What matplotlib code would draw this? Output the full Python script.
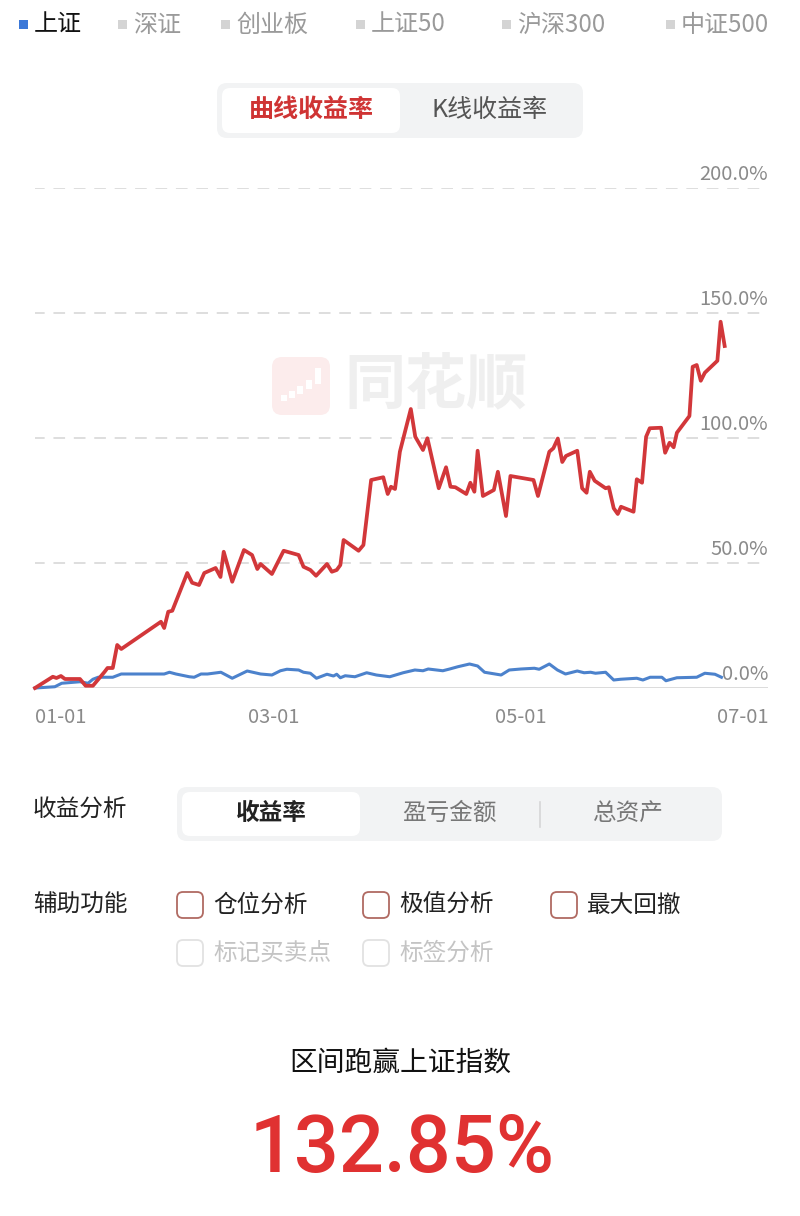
import matplotlib
matplotlib.use("Agg")
import matplotlib.pyplot as plt
from matplotlib.patches import FancyBboxPatch, Rectangle

plt.rcParams['font.family'] = ['Noto Sans CJK SC', 'DejaVu Sans']

# ---------------- data (days since 01-01, percent return) ----------------
red_days = [0, 4.4, 5.3, 6.4, 7.4, 11.1, 12.5, 14.3, 17.2, 17.9, 19.2, 20.3, 21.3, 31.1, 31.9,
            32.9, 33.9, 37.6, 38.8, 40.5, 41.8, 44.6, 45.8, 46.6, 48.7, 51.6, 53.6, 54.9, 55.7,
            58.5, 61.4, 65.1, 66.3, 68.0, 69.4, 72.1, 73.3, 74.5, 75.4, 76.2, 79.9, 81.1, 83.0,
            86.0, 87.1, 87.9, 88.9, 90.1, 92.8, 93.9, 95.8, 96.9, 99.7, 101.5, 102.6, 103.8,
            106.5, 107.5, 108.5, 109.3, 110.6, 113.3, 114.3, 116.3, 117.4, 123.1, 124.2, 127.0,
            128.0, 129.1, 130.2, 131.1, 133.9, 135.1, 136.2, 137.0, 138.2, 140.9, 141.7, 142.9,
            143.9, 144.7, 147.8, 148.6, 149.9, 150.9, 151.8, 154.6, 155.6, 156.7, 157.7, 158.5,
            161.6, 162.4, 163.4, 164.4, 165.4, 168.5, 169.3, 170.3]
red_vals = [0, 4.5, 4.0, 4.8, 3.6, 3.6, 0.9, 0.9, 6.5, 8.0, 8.0, 17.2, 15.6, 26.5, 24.0,
            30.5, 30.9, 46.0, 42.1, 41.2, 46.0, 48.0, 44.4, 54.5, 42.5, 55.2, 53.2, 47.6, 49.6,
            45.6, 54.9, 53.2, 48.5, 47.2, 44.9, 49.6, 46.5, 47.2, 49.2, 59.2, 54.9, 57.2, 83.2,
            84.3, 77.6, 80.5, 79.6, 94.5, 111.6, 100.5, 95.2, 99.9, 79.9, 88.3, 80.5, 80.3,
            77.6, 82.1, 78.5, 94.9, 76.8, 79.2, 86.5, 68.8, 84.8, 83.2, 76.8, 94.5,
            95.9, 99.8, 90.4, 92.8, 94.9, 79.9, 78.1, 86.5, 82.9, 79.9, 80.3, 71.9,
            69.6, 72.5, 70.5, 83.5, 82.1, 100.5, 103.9, 104.1, 94.1, 98.1, 96.3, 102.1,
            108.8, 128.5, 129.2, 122.9, 126.1, 130.9, 146.5, 136.8]

blue_days = [0, 4.9, 6.6, 11.1, 13.1, 14.3, 15.6, 19.2, 21.3, 31.9, 33.2, 34.8, 38.1, 39.3,
             41.0, 42.6, 45.9, 48.7, 52.4, 55.7, 58.5, 60.6, 62.2, 65.1, 66.3, 68.0, 69.5, 72.1,
             73.7, 74.5, 75.4, 76.6, 79.0, 81.9, 84.3, 87.6, 90.9, 93.8, 95.8, 97.1, 100.7,
             102.4, 104.4, 107.3, 109.3, 111.0, 115.1, 117.1, 120.0, 123.3, 124.5, 127.0, 129.0,
             131.0, 133.9, 135.6, 137.2, 138.4, 140.9, 142.9, 144.6, 148.6, 150.1, 151.9, 154.8,
             155.8, 158.5, 163.4, 165.4, 167.9, 169.5]
blue_vals = [0, 0.5, 1.9, 2.5, 1.9, 3.5, 4.3, 4.3, 5.6, 5.6, 6.3, 5.6, 4.5, 4.3,
             5.6, 5.6, 6.3, 3.9, 6.8, 5.6, 5.2, 6.9, 7.5, 7.2, 6.3, 5.9, 3.9, 5.5,
             4.8, 5.5, 4.1, 4.9, 4.5, 6.1, 5.2, 4.5, 6.1, 7.2, 6.9, 7.6, 6.9,
             7.6, 8.5, 9.6, 8.8, 6.3, 5.2, 7.2, 7.6, 7.9, 7.5, 9.6, 7.2,
             5.6, 6.8, 6.1, 6.3, 5.9, 6.3, 3.2, 3.5, 3.9, 3.2, 4.3, 4.3,
             2.9, 4.1, 4.3, 5.9, 5.5, 4.3]

x_tick_days = [0, 59, 120, 181]
x_tick_labels = ["01-01", "03-01", "05-01", "07-01"]
y_ticks = [0, 50, 100, 150, 200]

legend_items = ["上证", "深证", "创业板", "上证50", "沪深300", "中证500"]
legend_x = [19, 118, 221, 356, 502, 666]
result_text = "132.85%"

RED = "#d2373a"
BLUE = "#4c82cc"
GREY_TXT = "#8a8a8a"

fig = plt.figure(figsize=(8, 12.16), dpi=100)
fig.patch.set_facecolor("white")

# ---------------- UI overlay (pixel coordinates) ----------------
ui = fig.add_axes([0, 0, 1, 1], zorder=0)
ui.set_xlim(0, 800)
ui.set_ylim(1216, 0)
ui.axis("off")

def rbox(x0, y0, w, h, fc, ec="none", lw=0, r=8, z=1):
    p = FancyBboxPatch((x0, y0), w, h, boxstyle=f"round,pad=0,rounding_size={r}",
                       fc=fc, ec=ec, lw=lw, zorder=z, mutation_aspect=1)
    ui.add_patch(p)

# top legend
for i, (lab, lx) in enumerate(zip(legend_items, legend_x)):
    col_sq = "#3b78d8" if i == 0 else "#d4d4d4"
    col_tx = "#111111" if i == 0 else "#9a9a9a"
    ui.add_patch(Rectangle((lx, 20), 9, 9, fc=col_sq, ec="none"))
    ui.text(lx + 15, 25, lab, fontsize=17.3, color=col_tx, ha="left", va="center")

# toggle
rbox(217, 83, 366, 55, "#f2f3f4", r=10)
rbox(222, 88, 178, 45, "white", r=8, z=2)
ui.text(311, 110, "曲线收益率", fontsize=18, color="#cf3434", fontweight="bold",
        ha="center", va="center", zorder=3)
ui.text(490, 110, "K线收益率", fontsize=18, color="#555555", ha="center", va="center", zorder=3)

# watermark
rbox(272, 357, 58, 58, "#fcecec", r=10)
for cx, cy, hh in [(284, 398, 6), (292, 394, 7), (300, 390, 8), (309, 384, 9), (318, 376, 16)]:
    ui.add_patch(Rectangle((cx - 3, cy - hh / 2), 6, hh, fc="white", ec="none", zorder=2))
ui.text(436, 386, "同花顺", fontsize=44, color="#efefef", fontweight="bold",
        ha="center", va="center", style="italic")

# bottom controls
ui.text(33, 810, "收益分析", fontsize=17, color="#222222", ha="left", va="center")
rbox(177, 787, 545, 54, "#f2f3f4", r=10)
rbox(182, 792, 178, 44, "white", r=8, z=2)
ui.text(271, 813, "收益率", fontsize=17, color="#222222", fontweight="bold",
        ha="center", va="center", zorder=3)
ui.text(449, 813, "盈亏金额", fontsize=17, color="#777777", ha="center", va="center")
ui.plot([540, 540], [802, 827], color="#d6d6d6", lw=1.2)
ui.text(628, 813, "总资产", fontsize=17, color="#777777", ha="center", va="center")

ui.text(33, 905, "辅助功能", fontsize=17, color="#222222", ha="left", va="center")
checks = [(177, 892, "仓位分析", True), (363, 892, "极值分析", True), (551, 892, "最大回撤", True),
          (177, 940, "标记买卖点", False), (363, 940, "标签分析", False)]
for cx, cy, lab, act in checks:
    rbox(cx, cy, 26, 26, "white", ec="#b06a62" if act else "#e2e2e2", lw=1.3, r=6)
    ui.text(cx + 36, cy + 13, lab, fontsize=17, color="#222222" if act else "#c4c4c4",
            ha="left", va="center")

ui.text(400, 1063, "区间跑赢上证指数", fontsize=20, color="#111111", ha="center", va="center")
ui.text(402, 1150, result_text, fontsize=57, color="#e03131", ha="center", va="center",
        fontweight="medium", family=["Roboto", "DejaVu Sans"])

# ---------------- chart ----------------
ax = fig.add_axes([35 / 800, 1 - 688 / 1216, (768 - 35) / 800, 500 / 1216], zorder=2)
ax.patch.set_alpha(0)
ax.set_xlim(0, 181)
ax.set_ylim(0, 200)
for s in ax.spines.values():
    s.set_visible(False)

for v in y_ticks[1:]:
    ax.axhline(v, xmin=-0.003, color="#dedede", lw=1.4, ls=(0, (6, 4.5)), zorder=1)
ax.axhline(0, xmin=-0.003, color="#d8d8d8", lw=2.0, zorder=1)
for v in y_ticks:
    ax.annotate(f"{v:.1f}%", xy=(181, v), xytext=(0, 9.5), textcoords="offset points",
                ha="right", va="center", fontsize=14.5, color=GREY_TXT, zorder=1)

ax.plot(blue_days, blue_vals, color=BLUE, lw=2.2, zorder=3, clip_on=False,
        solid_joinstyle="round")
ax.plot(red_days, red_vals, color=RED, lw=2.7, zorder=4, clip_on=False,
        solid_joinstyle="round")

ax.set_yticks([])
ax.set_xticks(x_tick_days)
ax.set_xticklabels(x_tick_labels, fontsize=14.5, color=GREY_TXT)
ax.tick_params(axis="x", length=0, pad=14)
labs = ax.get_xticklabels()
labs[0].set_ha("left")
labs[-1].set_ha("right")

fig.savefig("out.png", dpi=100, facecolor="white")
